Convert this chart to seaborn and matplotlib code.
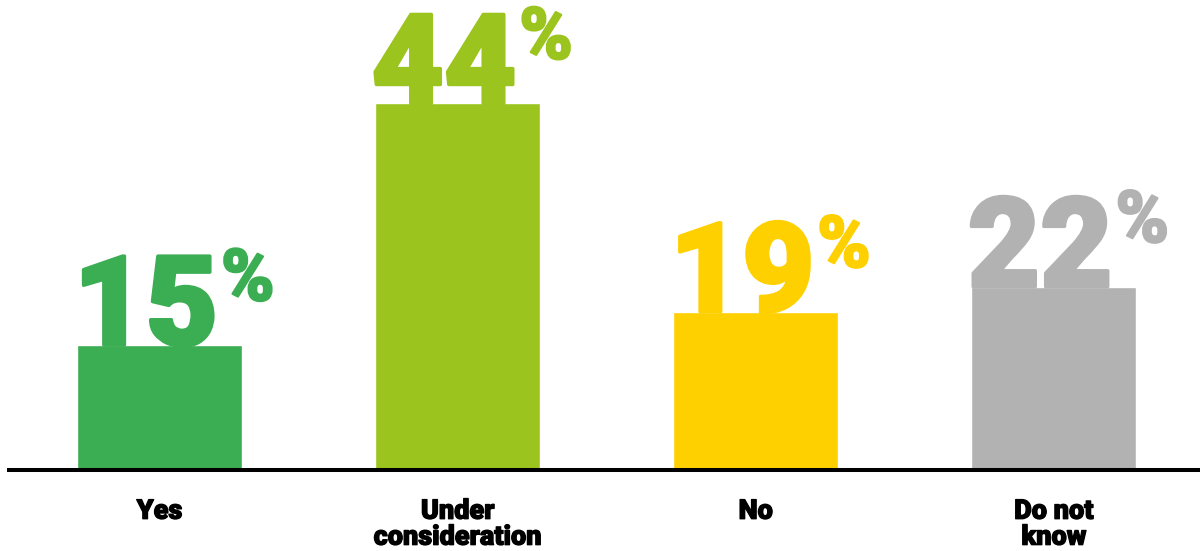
import matplotlib
matplotlib.use("Agg")
import matplotlib.pyplot as plt
import matplotlib.patheffects as pe
import seaborn as sns
import pandas as pd

categories = ["Yes", "Under\nconsideration", "No", "Do not\nknow"]
values = [15, 44, 19, 22]
colors = ["#3BAD53", "#9BC41E", "#FFD000", "#B2B2B2"]

sns.set_theme(style="white")
plt.rcParams["font.family"] = ["Roboto", "DejaVu Sans"]

df = pd.DataFrame({"cat": categories, "val": values})

fig = plt.figure(figsize=(12, 5.51), dpi=100)
ax = fig.add_axes([9 / 1200, 81 / 551, 1 - 9 / 1200, 1 - 81 / 551])

sns.barplot(data=df, x="cat", y="val", hue="cat", palette=colors,
            width=0.554, saturation=1, legend=False, ax=ax, zorder=1)

ax.set_xlim(-0.505, 3.49)
ax.set_ylim(0, 56.4)
ax.set_xlabel("")
ax.set_ylabel("")
ax.set_yticks([])
for s in ["left", "right", "top"]:
    ax.spines[s].set_visible(False)
ax.spines["bottom"].set_color("black")
ax.spines["bottom"].set_linewidth(2.9)
ax.spines["bottom"].set_zorder(5)
ax.tick_params(axis="x", length=0, pad=20)
for lab in ax.get_xticklabels():
    lab.set_fontsize(19.5)
    lab.set_fontweight("black")
    lab.set_color("black")
    lab.set_linespacing(0.95)
    lab.set_path_effects([pe.withStroke(linewidth=0.9, foreground="black")])

for patch, v, c in zip(ax.patches, values, colors):
    x0 = patch.get_x()
    t = ax.text(x0 - 0.012, v, f"{v}", ha="left", va="baseline", fontsize=90,
                fontweight="black", color=c, zorder=3,
                path_effects=[pe.withStroke(linewidth=2.5, foreground=c)])
    ax.annotate("%", xy=(1, 1), xycoords=t, xytext=(2, 4),
                textcoords="offset points", ha="left", va="top",
                fontsize=52, fontweight="black", color=c, zorder=3,
                path_effects=[pe.withStroke(linewidth=1.5, foreground=c)])

fig.savefig("out.png", dpi=100)
